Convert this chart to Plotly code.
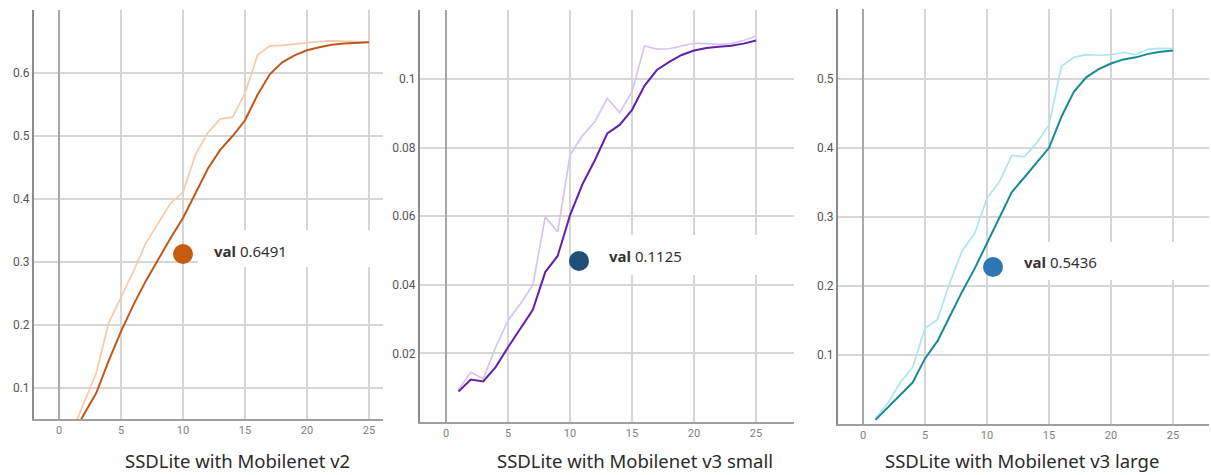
import plotly.graph_objects as go

epochs = list(range(1, 26))

# SSDLite with Mobilenet v2
v2_raw = [0.028, 0.075, 0.124, 0.203, 0.243, 0.285, 0.330, 0.362, 0.393, 0.411,
          0.470, 0.505, 0.527, 0.530, 0.568, 0.628, 0.643, 0.644, 0.646, 0.649,
          0.650, 0.651, 0.651, 0.650, 0.649]
v2_smooth = [0.020, 0.058, 0.092, 0.143, 0.190, 0.232, 0.270, 0.305, 0.338, 0.370,
             0.410, 0.448, 0.478, 0.500, 0.525, 0.565, 0.598, 0.617, 0.628, 0.636,
             0.641, 0.645, 0.647, 0.648, 0.649]

# SSDLite with Mobilenet v3 small
v3s_raw = [0.0095, 0.0145, 0.0126, 0.0218, 0.0296, 0.0345, 0.0399, 0.0598, 0.0554, 0.0778,
           0.0835, 0.0875, 0.0944, 0.0902, 0.0963, 0.1096, 0.1087, 0.1088, 0.1096, 0.1104,
           0.1103, 0.1101, 0.1103, 0.1112, 0.1125]
v3s_smooth = [0.0089, 0.0124, 0.0118, 0.0160, 0.0218, 0.0273, 0.0327, 0.0437, 0.0484, 0.0603,
              0.0693, 0.0763, 0.0841, 0.0866, 0.0910, 0.0980, 0.1026, 0.1050, 0.1070, 0.1083,
              0.1090, 0.1094, 0.1097, 0.1103, 0.1112]

# SSDLite with Mobilenet v3 large
v3l_raw = [0.008, 0.030, 0.060, 0.082, 0.139, 0.151, 0.205, 0.251, 0.276, 0.327,
           0.351, 0.389, 0.387, 0.407, 0.433, 0.518, 0.531, 0.535, 0.534, 0.535,
           0.538, 0.535, 0.543, 0.544, 0.5436]
v3l_smooth = [0.006, 0.024, 0.043, 0.060, 0.095, 0.120, 0.156, 0.192, 0.225, 0.262,
              0.297, 0.336, 0.357, 0.378, 0.400, 0.445, 0.481, 0.502, 0.514, 0.522,
              0.528, 0.531, 0.536, 0.539, 0.541]

titles = ["SSDLite with Mobilenet v2", "SSDLite with Mobilenet v3 small",
          "SSDLite with Mobilenet v3 large"]
val_labels = ["0.6491", "0.1125", "0.5436"]

W, H = 1211, 475

def px(x):
    return x / W

def py(y):
    return 1 - y / H

panels = [
    dict(raw=v2_raw, sm=v2_smooth, light="#f5cba7", dark="#c0581c", dot="#c55a11",
         xd=(34, 383), yd=(10, 419), xr=(-2.02, 26.13), yr=(0.0508, 0.70),
         yt=[0.1, 0.2, 0.3, 0.4, 0.5, 0.6, 0.7], ytt=["0.1", "0.2", "0.3", "0.4", "0.5", "0.6", ""],
         dotc=(183, 254), box=(198, 230, 383, 267), txt=(212, 251), tc=237),
    dict(raw=v3s_raw, sm=v3s_smooth, light="#d7c3ef", dark="#6420aa", dot="#1f4e79",
         xd=(420, 794), yd=(10, 422), xr=(-2.1, 28.06), yr=(0.0, 0.1201),
         yt=[0.0, 0.02, 0.04, 0.06, 0.08, 0.1, 0.12], ytt=["", "0.02", "0.04", "0.06", "0.08", "0.1", ""],
         dotc=(579, 261), box=(600, 235, 794, 275), txt=(607, 256), tc=635),
    dict(raw=v3l_raw, sm=v3l_smooth, light="#ade6ea", dark="#188a96", dot="#2e75b6",
         xd=(838, 1209), yd=(9, 424), xr=(-2.02, 27.9), yr=(0.0, 0.601),
         yt=[0.0, 0.1, 0.2, 0.3, 0.4, 0.5, 0.6], ytt=["", "0.1", "0.2", "0.3", "0.4", "0.5", ""],
         dotc=(993, 267), box=(1010, 242, 1211, 280), txt=(1022, 262), tc=1022),
]

fig = go.Figure()
shapes = []
annotations = []

for i, p in enumerate(panels, start=1):
    xa = "x" if i == 1 else f"x{i}"
    ya = "y" if i == 1 else f"y{i}"
    fig.add_trace(go.Scatter(x=epochs, y=p["raw"], mode="lines", xaxis=xa, yaxis=ya,
                             line=dict(color=p["light"], width=1.7), showlegend=False,
                             cliponaxis=True))
    fig.add_trace(go.Scatter(x=epochs, y=p["sm"], mode="lines", xaxis=xa, yaxis=ya,
                             line=dict(color=p["dark"], width=2.0), showlegend=False,
                             cliponaxis=True))
    xkey = "xaxis" if i == 1 else f"xaxis{i}"
    ykey = "yaxis" if i == 1 else f"yaxis{i}"
    fig.layout[xkey] = dict(
        domain=[px(p["xd"][0]), px(p["xd"][1])], anchor=ya, range=list(p["xr"]),
        tickvals=[0, 5, 10, 15, 20, 25], showgrid=True, gridcolor="#d6d6d6", gridwidth=1.5,
        zeroline=True, zerolinecolor="#a8a8a8", zerolinewidth=1.6,
        showline=True, linecolor="#a0a0a0", linewidth=1.6, ticks="",
        tickfont=dict(family="Roboto", size=11, color="#808080"), fixedrange=True)
    fig.layout[ykey] = dict(
        domain=[py(p["yd"][1]), py(p["yd"][0])], anchor=xa, range=list(p["yr"]),
        tickvals=p["yt"], ticktext=p["ytt"], showgrid=True, gridcolor="#d6d6d6", gridwidth=1.5,
        zeroline=False, showline=True, linecolor="#8c8c8c", linewidth=2, ticks="",
        tickfont=dict(family="Roboto", size=12, color="#555555"), fixedrange=True)

    bx0, by0, bx1, by1 = p["box"]
    shapes.append(dict(type="rect", xref="paper", yref="paper", layer="above",
                       x0=px(bx0), x1=px(bx1), y0=py(by1), y1=py(by0),
                       fillcolor="white", line=dict(width=0)))
    cx, cy = p["dotc"]
    r = 10
    shapes.append(dict(type="circle", xref="paper", yref="paper", layer="above",
                       x0=px(cx - r), x1=px(cx + r), y0=py(cy + r), y1=py(cy - r),
                       fillcolor=p["dot"], line=dict(width=0)))
    tx, ty = p["txt"]
    annotations.append(dict(xref="paper", yref="paper", x=px(tx), y=py(ty),
                            xanchor="left", yanchor="middle", showarrow=False,
                            text=f"<b>val</b> {val_labels[i-1]}",
                            font=dict(family="Noto Sans", size=15, color="#333333")))
    annotations.append(dict(xref="paper", yref="paper", x=px(p["tc"]), y=py(460),
                            xanchor="center", yanchor="middle", showarrow=False,
                            text=titles[i-1],
                            font=dict(family="Noto Sans", size=18.5, color="#2a2a2a")))

fig.update_layout(width=W, height=H, margin=dict(l=0, r=0, t=0, b=0),
                  paper_bgcolor="white", plot_bgcolor="white",
                  shapes=shapes, annotations=annotations, showlegend=False)

fig.write_html("out.html", config={"displayModeBar": False})
